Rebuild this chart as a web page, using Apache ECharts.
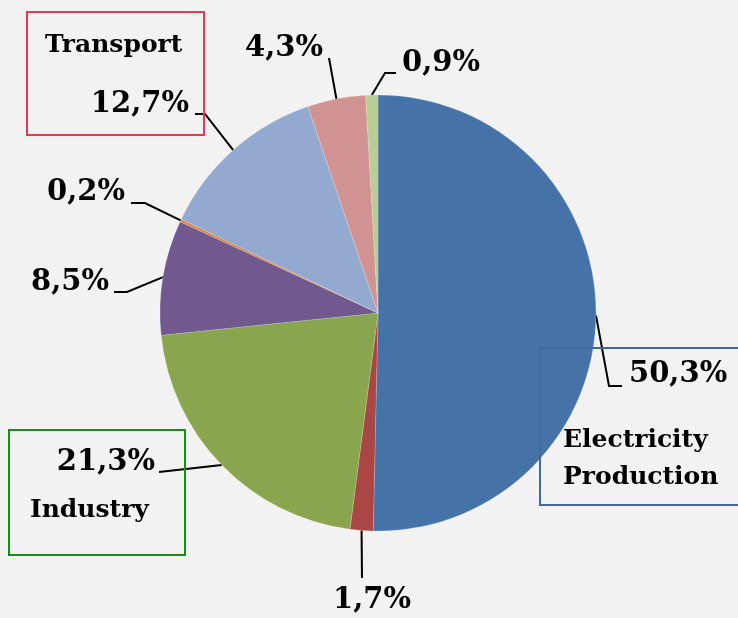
<!DOCTYPE html>
<html>
<head>
    <meta charset="utf-8">
    <title>Emissions by sector</title>
    <script src="https://cdn.jsdelivr.net/npm/echarts@6/dist/echarts.min.js"></script>
</head>
<style>
    body {
        margin: 0;
        background: #f2f2f2;
    }

    #main {
        width: 738px;
        height: 618px;
    }
</style>
<body>
<div id="main"></div>
<script type="text/javascript">

    // slice data, clockwise from 12 o'clock
    var sectors = ['Electricity Production', 'Other 1', 'Industry', 'Other 2', 'Other 3', 'Transport', 'Other 4', 'Other 5'];
    var shares = [50.3, 1.7, 21.3, 8.5, 0.2, 12.7, 4.3, 0.9];
    var colors = ['#4573a7', '#aa4643', '#89a54e', '#71588f', '#db843d', '#93a9cf', '#d19392', '#b9cd96'];

    // where each label sits: text anchor x, y, align, then leader line elbow and end
    var labelPos = [
        {x: 629, y: 374, align: 'left', line: [[609, 386], [622, 386]]},
        {x: 372, y: 600, align: 'center', line: [[362, 578], [362, 578]]},
        {x: 155, y: 462, align: 'right', line: [[168, 471], [159, 472]]},
        {x: 109, y: 282, align: 'right', line: [[127, 292], [114, 292]]},
        {x: 125, y: 192, align: 'right', line: [[145, 203], [131, 203]]},
        {x: 189, y: 104, align: 'right', line: [[205, 114], [195, 114]]},
        {x: 323, y: 48, align: 'right', line: [[329, 58], [329, 58]]},
        {x: 402, y: 63, align: 'left', line: [[385, 73], [396, 73]]}
    ];

    var chart = echarts.init(document.getElementById('main'));

    var font = '"DejaVu Serif", serif';

    chart.setOption({
        backgroundColor: '#f2f2f2',
        animation: false,
        series: [{
            type: 'pie',
            center: [378, 313],
            radius: 218,
            startAngle: 90,
            clockwise: true,
            avoidLabelOverlap: false,
            data: sectors.map(function (name, i) {
                return {name: name, value: shares[i], itemStyle: {color: colors[i]}};
            }),
            itemStyle: {
                borderWidth: 0.5,
                borderColor: 'rgba(255,255,255,0.35)'
            },
            label: {
                show: true,
                position: 'outside',
                formatter: function (p) {
                    return p.value.toFixed(1).replace('.', ',') + '%';
                },
                fontFamily: font,
                fontWeight: 'bold',
                fontSize: 29,
                color: '#000'
            },
            labelLine: {
                show: true,
                lineStyle: {
                    color: '#000',
                    width: 2
                }
            },
            labelLayout: function (params) {
                var pos = labelPos[params.dataIndex];
                var start = params.labelLinePoints ? params.labelLinePoints[0] : pos.line[0];
                return {
                    x: pos.x,
                    y: pos.y,
                    align: pos.align,
                    verticalAlign: 'middle',
                    labelLinePoints: [start, pos.line[0], pos.line[1]]
                };
            }
        }],
        graphic: [
            {
                type: 'rect', z: 10, silent: true,
                shape: {x: 27, y: 12, width: 177, height: 123},
                style: {fill: 'none', stroke: '#e8374f', lineWidth: 2}
            },
            {
                type: 'rect', z: 10, silent: true,
                shape: {x: 9, y: 430, width: 176, height: 125},
                style: {fill: 'none', stroke: '#1a8a1a', lineWidth: 2}
            },
            {
                type: 'rect', z: 10, silent: true,
                shape: {x: 540, y: 348, width: 210, height: 157},
                style: {fill: 'none', stroke: '#3e6a9e', lineWidth: 2}
            },
            {
                type: 'text', z: 10, left: 45, top: 33,
                style: {text: 'Transport', font: 'bold 25px ' + font, fill: '#000'}
            },
            {
                type: 'text', z: 10, left: 30, top: 498,
                style: {text: 'Industry', font: 'bold 25px ' + font, fill: '#000'}
            },
            {
                type: 'text', z: 10, left: 563, top: 422,
                style: {text: 'Electricity\nProduction', font: 'bold 25px ' + font, lineHeight: 37, fill: '#000'}
            }
        ]
    });
</script>
</body>
</html>
